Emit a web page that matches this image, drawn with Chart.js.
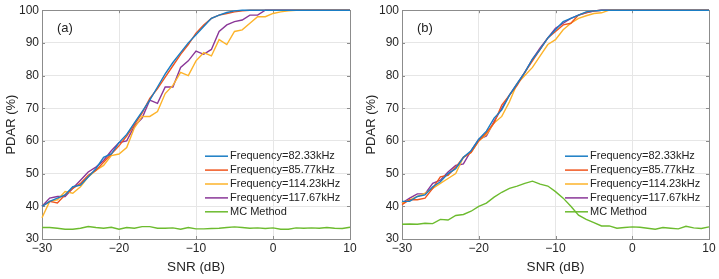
<!DOCTYPE html>
<html>
<head>
<meta charset="utf-8">
<script src="https://cdn.jsdelivr.net/npm/chart.js@4.4.1/dist/chart.umd.min.js"></script>
<style>
  html, body { margin: 0; padding: 0; background: #fff; }
  .wrap { display: flex; width: 719px; height: 279px; }
  .box { position: relative; height: 279px; }
</style>
</head>
<body>
<div class="wrap">
  <div class="box" style="width:360px"><canvas id="chartA"></canvas></div>
  <div class="box" style="width:359px"><canvas id="chartB"></canvas></div>
</div>
<script>
// --- Data ---
const snr = [-30,-29,-28,-27,-26,-25,-24,-23,-22,-21,-20,-19,-18,-17,-16,-15,-14,-13,-12,-11,-10,
             -9,-8,-7,-6,-5,-4,-3,-2,-1,0,1,2,3,4,5,6,7,8,9,10];
const xTicks = [-30, -20, -10, 0, 10];
const yTicks = [30, 40, 50, 60, 70, 80, 90, 100];
const labels = ["Frequency=82.33kHz", "Frequency=85.77kHz", "Frequency=114.23kHz", "Frequency=117.67kHz", "MC Method"];
const colors = ["#1a7dc4", "#f0561e", "#fdb32a", "#8a3798", "#6cbb2e"];

// panel (a)
const a82 = [40,41.5,42.5,43.5,46,46.5,49,51.5,55,56,59.5,62,65.5,69,72.5,76.5,80.5,84,87,90,92.5,
             95,97.5,98.5,99.3,99.8,100,100,100,100,100,100,100,100,100,100,100,100,100,100,100];
const a85 = [40,41.5,41,43.5,45.5,47,49.5,51,53.5,56,58.5,61.5,65,68.5,73,76,79.5,83,86.5,89.5,93,
             95.5,97.5,98.5,99,99.5,99.8,100,100,100,100,100,100,100,100,100,100,100,100,100,100];
const a114 = [36.5,41.5,42,44.5,44,46,49,51,52.5,55.5,56,58,64,67.5,67.5,69,74.5,77,81,80,84.5,
              87,86,91,89.5,93.5,94,96,98,98,99,99.5,99.8,100,100,100,100,100,100,100,100];
const a117 = [40,42.5,43,43,45.5,48,50.5,52,54,57,59.5,60,64.5,67,72.5,71.5,76.5,76.5,82.5,84.5,87.5,
              86.5,88,93.5,95.5,96.5,97,98.5,98.5,100,100,100,100,100,100,100,100,100,100,100,100];
const aMC = [33.5,33.5,33.3,33,33,33.3,33.8,33.5,33.3,33.6,33,33.5,33.3,33.8,33.8,33.3,33.3,33.4,33,33.5,33.1,
             33.1,33.2,33.3,33.5,33.7,33.5,33.3,33.4,33.2,33.4,33,33,33.4,33.3,33.4,33.3,33.5,33.3,33.2,33.6];

// panel (b)
const b82 = [41.5,41.5,43,43.5,46,47.5,50,51.5,55,57,60.5,63,67,69.5,74,77.5,81,85,88,91.5,94,
             96.5,97.5,98.5,99.5,99.8,100,100,100,100,100,100,100,100,100,100,100,100,100,100,100];
const b85 = [40.5,42,42,42.5,45.5,49,49.5,52,55,56.5,60,62.5,65.5,71,74,77,81,84.5,88,91.5,93.5,
             95.5,96,98.5,99.3,99.8,100,100,100,100,100,100,100,100,100,100,100,100,100,100,100];
const b114 = [41,42,43,44,45.5,47,48.5,50,55,56.5,60,62,65.5,67.5,72,77.5,80,82.5,86,89.5,91,
              94,96,97.5,98.3,99,99.2,100,100,100,100,100,100,100,100,100,100,100,100,100,100];
const b117 = [41,42.5,43.8,43.8,47,48,50.5,52.5,53,57,60.5,61.5,66,70,74,77.5,81,85,88.5,91.5,94.5,
              96,97.5,98.5,99.2,99.7,100,100,100,100,100,100,100,100,100,100,100,100,100,100,100];
const bMC = [34.5,34.6,34.5,34.8,34.7,36,35.8,37.2,37.5,38.5,40,41,42.8,44.3,45.5,46.2,47,47.7,46.8,46.2,44.5,
             42.5,40,37.3,36,35,34,34,33.3,33.5,33.7,33.6,33.3,33,33.5,33.3,33.1,33.9,33.4,33.2,33.7];

const FONT = "'Liberation Sans', Arial, sans-serif";

// --- Plugins: box + inner ticks under the lines, panel tag and legend on top ---
const boxPlugin = {
  id: "boxPlugin",
  beforeDatasetsDraw(chart) {
    const { ctx, chartArea: ca, scales } = chart;
    ctx.save();
    ctx.strokeStyle = "#8c8c8c";
    ctx.lineWidth = 1;
    ctx.beginPath();
    scales.y.ticks.forEach(t => {
      const y = Math.round(scales.y.getPixelForValue(t.value)) + 0.5;
      ctx.moveTo(ca.left, y); ctx.lineTo(ca.left + 3, y);
      ctx.moveTo(ca.right, y); ctx.lineTo(ca.right - 3, y);
    });
    scales.x.ticks.forEach(t => {
      const x = Math.round(scales.x.getPixelForValue(t.value)) + 0.5;
      ctx.moveTo(x, ca.bottom); ctx.lineTo(x, ca.bottom - 3);
      ctx.moveTo(x, ca.top); ctx.lineTo(x, ca.top + 3);
    });
    ctx.stroke();
    ctx.strokeRect(Math.round(ca.left) + 0.5, Math.round(ca.top) + 0.5,
                   Math.round(ca.right - ca.left), Math.round(ca.bottom - ca.top));
    ctx.restore();
  },
  afterDraw(chart) {
    const { ctx, chartArea: ca } = chart;
    ctx.save();
    ctx.fillStyle = "#222";
    ctx.font = "13px " + FONT;
    ctx.textBaseline = "middle";
    ctx.fillText(chart.options.plugins.boxPlugin.tag, ca.left + 15, ca.top + 18);

    // legend
    ctx.font = "11px " + FONT;
    chart.data.datasets.forEach((ds, i) => {
      const y = ca.top + 146 + i * 13.9;
      ctx.strokeStyle = ds.borderColor;
      ctx.lineWidth = 1.5;
      ctx.beginPath();
      ctx.moveTo(ca.left + 163, y); ctx.lineTo(ca.left + 186, y);
      ctx.stroke();
      ctx.fillStyle = "#222";
      ctx.fillText(ds.label, ca.left + 188, y);
    });
    ctx.restore();
  }
};

function makeChart(id, tag, series) {
  const datasets = series.map((s, i) => ({
    label: labels[i],
    data: snr.map((x, j) => ({ x: x, y: s[j] })),
    borderColor: colors[i],
    borderWidth: 1.4,
    pointRadius: 0,
    tension: 0,
    fill: false,
    clip: 2
  }));
  return new Chart(document.getElementById(id), {
    type: "line",
    data: { datasets },
    options: {
      responsive: true,
      maintainAspectRatio: false,
      animation: false,
      layout: { padding: { top: 8, right: 10, left: 0, bottom: 0 } },
      plugins: { legend: { display: false }, tooltip: { enabled: false }, boxPlugin: { tag } },
      scales: {
        x: {
          type: "linear", min: -30, max: 10,
          afterBuildTicks: s => { s.ticks = xTicks.map(v => ({ value: v })); },
          afterFit: s => { s.height = 40; },
          ticks: {
            color: "#262626", font: { family: FONT, size: 12 }, padding: 2, maxRotation: 0,
            callback: v => String(v).replace("-", "\u2212")
          },
          grid: { color: "#e6e6e6", drawTicks: false },
          border: { display: false },
          title: { display: true, text: "SNR (dB)", color: "#262626", font: { family: FONT, size: 13.5 }, padding: { top: 3 } }
        },
        y: {
          min: 30, max: 100,
          afterBuildTicks: s => { s.ticks = yTicks.map(v => ({ value: v })); },
          afterFit: s => { s.width = 42; },
          ticks: { color: "#262626", font: { family: FONT, size: 12 }, padding: 3 },
          grid: { color: "#e6e6e6", drawTicks: false },
          border: { display: false },
          title: { display: true, text: "PDAR (%)", color: "#262626", font: { family: FONT, size: 13 }, padding: { bottom: 2 } }
        }
      }
    },
    plugins: [boxPlugin]
  });
}

makeChart("chartA", "(a)", [a82, a85, a114, a117, aMC]);
makeChart("chartB", "(b)", [b82, b85, b114, b117, bMC]);
</script>
</body>
</html>
